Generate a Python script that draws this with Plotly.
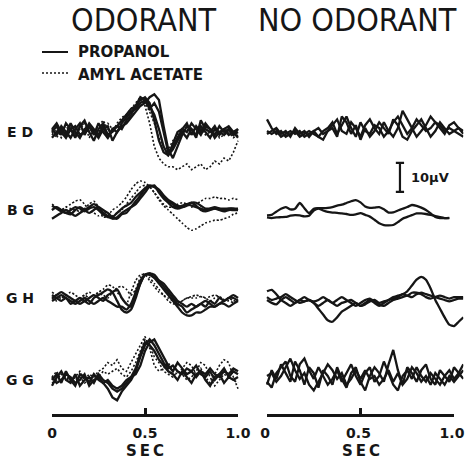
import plotly.graph_objects as go

# ---------------- data (microvolts vs seconds) ----------------
T_LEFT = [0.0, 0.025, 0.05, 0.075, 0.1, 0.125, 0.15, 0.175, 0.2, 0.225,
          0.25, 0.275, 0.3, 0.325, 0.35, 0.375, 0.4, 0.425, 0.45, 0.475,
          0.5, 0.525, 0.55, 0.575, 0.6, 0.625, 0.65, 0.675, 0.7, 0.725,
          0.75, 0.775, 0.8, 0.825, 0.85, 0.875, 0.9, 0.925, 0.95, 0.975, 1.0]
T_RIGHT = T_LEFT + [1.025, 1.05]

ROW_LABELS = ["E D", "B G", "G H", "G G"]
X_TICKS = [0, 0.5, 1.0]
X_TICK_TEXT = ["0", "0.5", "1.0"]
SCALE_UV = 10
SCALE_LABEL = "10\u03bcV"
LEGEND_LABELS = ["PROPANOL", "AMYL ACETATE"]
PANEL_TITLES = ["ODORANT", "NO ODORANT"]

# ---- ODORANT: ED ----
ED_PROP_1 = [0, 2, -1, 3, 1, -2, 2, 4, 0, -3, 1, 3, -1, 0, 2, 4, 6, 8, 9, 11, 12, 10, 4, -3, -7, -8, -4, 0, 1, 3, -1, 2, 0, 3, 1, -1, 2, 0, 1, -1, 1]
ED_PROP_2 = [1, -1, 2, 0, -2, 1, 3, -1, 2, 0, -2, 1, 2, -3, 0, 2, 3, 5, 7, 9, 10, 12, 13, 11, 2, -6, -9, -5, -1, 2, 1, -2, 4, 1, 0, 2, -1, 1, 2, 0, 1]
ED_PROP_3 = [-2, 0, 1, -1, 3, 0, -2, 1, 2, -1, 3, 0, -2, 1, 0, 3, 5, 7, 8, 10, 11, 9, 6, 1, -5, -8, -6, -3, 0, -2, 1, -1, 2, 0, -2, 1, 0, -1, 1, -1, 0]
ED_PROP_4 = [1, 3, 0, -2, 1, 2, -1, 0, 3, 1, -1, 2, -2, 1, 2, 1, 4, 6, 9, 12, 11, 8, 10, 7, 0, -7, -5, -2, 1, 0, 3, 1, -1, 2, 1, -2, 0, 1, -1, 0, -2]
ED_AMYL_1 = [0, -2, 1, 2, 0, -1, 2, 3, 1, 0, 2, 4, 1, 0, 3, 5, 6, 8, 10, 12, 9, 3, -5, -9, -11, -12, -12, -13, -12, -11, -13, -12, -11, -13, -12, -10, -11, -9, -10, -7, -3]
ED_AMYL_2 = [-1, 1, -2, 0, 2, -1, 1, 3, -2, 1, 0, 2, 3, 1, 2, 4, 6, 7, 9, 11, 10, 7, 3, -2, -5, -6, -3, -1, 0, 1, -1, 0, 1, -1, 0, 1, -2, -1, 0, -2, -1]

# ---- ODORANT: BG ----
BG_PROP_1 = [0, 1, 0, -1, 0, 1, 0.5, -0.5, 0.5, 1, 0, -1.5, -2.5, -2.5, -1, 0.5, 1.5, 2.5, 4.5, 6, 7.5, 8.5, 8, 6.5, 5, 3.5, 2.5, 1.5, 1, 1.5, 2.5, 2.5, 1.5, 0.5, 0.5, 0.5, 0.5, 0.5, 0.5, 0.5, 0.5]
BG_PROP_2 = [1.5, 0.5, -0.5, -1, -1.5, 0, 1, 0, -1, 0, 1, 0, -1, -2.5, -3, -1.5, -1, 1, 3, 5, 7, 8, 8.5, 6, 4, 2.5, 1, 0.5, 1, 2, 2.5, 1.5, 0, -0.5, 0, 0.5, 0, -0.5, 0, 0, 0]
BG_PROP_3 = [-3, -2, -1, 0, -1, -2, -1, 0, 1, 2, 1, -1, -2, -3, -2.5, -1, 0, 1, 2, 4, 6, 8, 8, 7, 5, 3, 2, 1, 1.5, 2, 1.5, 1, 0.5, 0, 0.5, 1, 0.5, 0, 0.5, 0.5, 0]
BG_AMYL_1 = [0, 1, 0, 1, 0.5, 0, -0.5, 0.5, 2, 3, 1, -2.5, -2, 0, 1, 2.5, 4.5, 7, 9, 10, 9.5, 8, 6, 3.5, 1.5, 0, -1.5, -3, -4.5, -6, -7, -6.5, -5.5, -4.5, -4, -3.5, -3.5, -3, -2.5, -1.5, -1]
BG_AMYL_2 = [2, 1, 0, 1, 2, 3, 3.5, 2, 0, -1, -2, -1, -1, -2, -1, 0, 2, 4, 6, 8, 8.5, 8, 6, 4, 2, 1, 1, 2, 2.5, 2, 1, 2, 3, 4, 4, 4.5, 4, 4, 3.5, 4, 3.5]

# ---- ODORANT: GH ----
GH_PROP_1 = [1, 0, -1, 0, -2, -1, 0, -1, -2, 0, 1, 2, 3, 2, -1, -4, -5, -4, 0, 5, 8, 8.5, 7, 5, 3, 1, -1, -3, -5, -6, -6, -5, -5, -4, -3, -3, -2, -2, -3, -2, -1]
GH_PROP_2 = [-1, 0, 1, 0, -1, -2, -1, 0, -1, -2, -1, 0, -1, -2, -3, -3, -4, -2, 2, 6, 8, 8.5, 8, 6, 4, 2, 0, -2, -3, -5, -4, -3, -2, -1, -2, -3, -2, -1, 0, 0, -1]
GH_PROP_3 = [0, 1, 2, 1, 0, -1, -2, -1, 0, 1, 0, -1, 1, 2, 3, 0, -2, -3, 1, 5, 8, 8, 7, 6, 5, 3, 1, -1, -2, -3, -2, -3, -2, -3, -1, -2, 0, -1, 0, 1, 0]
GH_AMYL_1 = [2, 1, 0, 1, 2, 1, 0, 1, 2, 1, 2, 3, 4.5, 4, 2, 0, -2, 2, 6, 8, 8, 6, 4, 2, 1, -1, -2, -2, -1, 0, 0, 0, 0.5, 0, -1, 0, 0.5, -1, -1, -1.5, -1]
GH_AMYL_2 = [0, -1, 0, 1, 0, -1, 0, 1, 0, 1, 1.5, 1, 0, 2, 3.5, 4, 3, 1, 3, 7, 8.5, 7, 5, 3, 1, 0, -1, -1.5, -1, 0, 0.5, 1, 0.5, 0, 0.5, 1, 0.5, -0.5, 0, -1, -0.5]

# ---- ODORANT: GG ----
GG_PROP_1 = [0, 2, -1, 3, 0, -2, 2, 1, -1, 2, 0, -1, -3, -6, -7, -4, -2, 0, 3, 8, 12, 14, 12, 9, 6, 4, 5, 3, 2, 4, 3, 1, 3, 2, 4, 2, 1, 3, 2, 4, 3]
GG_PROP_2 = [-2, 1, 3, 0, -1, 2, -2, 0, 1, -1, 2, 0, -1, -3, -4, -3, -1, 1, 2, 5, 10, 13, 14, 11, 8, 5, 3, 6, 4, 2, 3, 5, 2, 1, 3, 0, 2, 4, 1, 3, 2]
GG_PROP_3 = [1, -1, 0, 2, 1, -1, 0, 2, -2, 0, 1, -1, 0, -2, -3, -2, 0, 1, 4, 9, 13, 12, 10, 7, 5, 3, 2, 0, 3, 1, -1, 2, 3, 0, -2, 1, 2, -1, 1, 0, 1]
GG_AMYL_1 = [1, 3, 0, 2, -1, 1, 3, 0, 2, 1, 3, 4, 6, 5, 7, 4, 3, 6, 9, 12, 15, 11, 5, 3, 4, 6, 3, 2, 4, 6, 5, 2, 4, 1, -1, 2, 5, 7, 6, 1, -3]
GG_AMYL_2 = [-1, 0, 2, 1, -1, 0, 1, -1, 0, 2, 1, 3, 2, 3, 4, 2, 1, 3, 6, 10, 14, 12, 8, 6, 3, 2, 1, 3, 2, 0, 1, 3, 6, 5, 1, -2, 0, 2, 1, 0, -1]

# ---- NO ODORANT ----
ED_NONE_1 = [4, 1, -1, 0, -2, -1, 0, -2, -1, 0, -1, -2, 0, 1, 3, -1, 2, 5, 1, -2, 3, 0, -1, 2, 1, -2, 0, 3, 5, 2, -1, 1, 4, 2, 0, 1, 3, 2, 0, 1, 0, -1, -2]
ED_NONE_2 = [-1, 0, 1, -1, 0, -2, 1, -1, 0, -2, 0, 1, -1, 0, 2, 4, 0, -1, 3, 1, -2, 2, 4, 1, -1, 3, 0, -2, 1, 7, 4, 1, -2, 0, 2, 5, 3, 1, -1, 2, 3, 1, 0]
ED_NONE_3 = [0, -1, 0, -2, -1, 0, -1, 0, -2, -1, 0, -2, -3, 0, 1, -2, 5, 3, -1, 2, -3, 1, -2, 0, 3, 1, -1, 4, 2, -2, -3, 0, 2, 4, 1, -2, 0, 3, 1, -1, 0, 1, -1]
BG_NONE_1 = [-0.5, -0.3, 0.8, 1.8, 2.4, 1.6, 1.8, 3.8, 2.0, 0.3, 1.8, 2.0, 2.0, 2.1, 2.4, 2.9, 3.2, 3.8, 4.4, 4.8, 4.0, 2.6, 2.1, 2.2, 2.4, 1.6, 0.5, 0.6, 1.2, 1.8, 2.4, 3.1, 2.8, 2.2, 1.4, 0.2, -1.0, -1.4, -1.4, -1.4]
BG_NONE_2 = [-1.2, -1.4, -1.2, -1.1, -1.0, -0.6, -0.4, -0.5, -0.8, -0.6, 1.2, 1.9, 1.2, 0.7, 0.5, 0.4, 0.2, 0, -0.3, -0.1, 0.3, -0.3, -0.9, -2.0, -3.2, -3.8, -3.9, -3.8, -2.8, -1.6, -1.0, -0.4, 0.2, 0.2, 0, -0.3, -0.7, -1.1, -1.4, -1.3]
GH_NONE_1 = [3, 3.5, 2, 0, -1, -2, -1, 0, -0.5, 0, -1, -2, -1, 0, -1, -2, -1, -0.5, 0, -1, -2, -1, 0, -1, -2, -1, 0, 1, 1.5, 2, 3, 5, 7, 8, 7, 4, 0, -3, -6, -8.5, -9, -7.5, -6]
GH_NONE_2 = [1, 0, 0.5, 1, 2, 1, 0, -1, -0.5, 0, -1, -3, -5, -7, -7.5, -6, -4, -3, -2, -1, -2, -1.5, -0.5, 0, -1, -0.5, 0, 0.5, 1, 2, 1.5, 2.5, 2.5, 2, 1, 0.5, 1, 1.5, 1, 0.5, 1, 1, 1]
GH_NONE_3 = [0, -1, -1.5, 0, 1, 0, -1, 0, 1, 0, -0.5, 0, 1, 0, -1, 0, 1, 0, -1, -2, -1, 0, 0.5, -0.5, -1.5, -2, -1, 0, 0.5, 1, 1.5, 1, 2, 2.5, 2, 1.5, 1, 0.5, 0, -0.5, 0, 0.5, 0.5]
GG_NONE_1 = [-3, 2, -1, 4, 1, -2, 5, 2, -3, 3, 1, -4, 2, 0, -3, 3, -1, -4, 1, 3, -2, -5, 0, 3, 1, -2, 4, 9, 2, -3, 3, 1, -2, 2, 4, -1, -3, 2, 0, -2, 3, 1, -1]
GG_NONE_2 = [-2, -4, 1, 3, 5, 0, -2, 4, 6, 2, -1, 3, 0, -3, -1, 2, -2, 1, 4, 0, -3, 1, 3, -2, 0, 5, 1, -3, -5, 0, 2, -1, 3, 0, -2, 1, -1, -3, 0, 2, -1, 1, 4]
GG_NONE_3 = [0, 1, -2, 0, 3, 6, 2, -1, 1, -3, -5, -2, 1, 4, 2, -1, 1, -3, -1, 2, -1, 2, -1, 0, -3, -1, 2, -2, 1, -3, -1, 3, 1, -2, 0, -3, 1, -1, -3, 0, -2, 0, 2]

ODORANT_ROWS = [
    [(ED_PROP_1, "solid"), (ED_PROP_2, "solid"), (ED_PROP_3, "solid"), (ED_PROP_4, "solid"),
     (ED_AMYL_1, "dot"), (ED_AMYL_2, "dot")],
    [(BG_PROP_1, "solid"), (BG_PROP_2, "solid"), (BG_PROP_3, "solid"),
     (BG_AMYL_1, "dot"), (BG_AMYL_2, "dot")],
    [(GH_PROP_1, "solid"), (GH_PROP_2, "solid"), (GH_PROP_3, "solid"),
     (GH_AMYL_1, "dot"), (GH_AMYL_2, "dot")],
    [(GG_PROP_1, "solid"), (GG_PROP_2, "solid"), (GG_PROP_3, "solid"),
     (GG_AMYL_1, "dot"), (GG_AMYL_2, "dot")],
]
NO_ODORANT_ROWS = [
    [(ED_NONE_1, "solid"), (ED_NONE_2, "solid"), (ED_NONE_3, "solid")],
    [(BG_NONE_1, "solid"), (BG_NONE_2, "solid")],
    [(GH_NONE_1, "solid"), (GH_NONE_2, "solid"), (GH_NONE_3, "solid")],
    [(GG_NONE_1, "solid"), (GG_NONE_2, "solid"), (GG_NONE_3, "solid")],
]

# ---------------- layout geometry (pixels) ----------------
W = H = 465
INK = "#161616"
PX_PER_UV = 2.9
HALF_UV = 25
ROW_BASE_LEFT = [132, 210, 298, 380]
ROW_BASE_RIGHT = [131, 214, 300, 376]
COL_PX = [(52, 238), (267, 454)]          # pixel of t=0 and t=1.0
COL_RANGE = [(-0.06, 1.06), (-0.06, 1.05)]
AXIS_Y_PX = 415
BOLD = "DejaVu Sans"
TITLE_FONT = "'DejaVu Sans Condensed', 'Liberation Sans Narrow', 'DejaVu Sans', sans-serif"


def xdom(col):
    p0, p1 = COL_PX[col]
    r0, r1 = COL_RANGE[col]
    return [(p0 + (p1 - p0) * r0) / W, (p0 + (p1 - p0) * r1) / W]


def ydom(base):
    half = HALF_UV * PX_PER_UV
    return [1 - (base + half) / H, 1 - (base - half) / H]


fig = go.Figure()
layout = {}
for r in range(4):
    for c, rows, bases, tgrid in ((0, ODORANT_ROWS, ROW_BASE_LEFT, T_LEFT),
                                  (1, NO_ODORANT_ROWS, ROW_BASE_RIGHT, T_RIGHT)):
        k = r * 2 + c + 1
        smooth = r in (1, 2)
        for vals, dash in rows[r]:
            fig.add_trace(go.Scatter(
                x=tgrid[:len(vals)], y=vals, mode="lines",
                xaxis=f"x{k}", yaxis=f"y{k}",
                line=dict(color=INK,
                          width=2.3 if dash == "solid" else 1.6,
                          dash="solid" if dash == "solid" else "2px,2px",
                          shape="spline" if smooth else "linear",
                          smoothing=0.6),
                hoverinfo="skip", showlegend=False))
        layout[f"xaxis{k}"] = dict(domain=xdom(c), range=list(COL_RANGE[c]),
                                   anchor=f"y{k}", visible=False, automargin=False)
        layout[f"yaxis{k}"] = dict(domain=ydom(bases[r]), range=[-HALF_UV, HALF_UV],
                                   anchor=f"x{k}", visible=False, automargin=False)

# time axes (free-positioned, 0 .. 1.0 s)
for c, k, yk, shift in ((0, 9, 7, 0), (1, 10, 8, -2)):
    p0, p1 = COL_PX[c]
    fig.add_trace(go.Scatter(x=[], y=[], xaxis=f"x{k}", yaxis=f"y{yk}",
                             showlegend=False, hoverinfo="skip"))
    layout[f"xaxis{k}"] = dict(
        domain=[p0 / W, p1 / W], range=[0, 1.0], anchor="free", automargin=False,
        position=1 - AXIS_Y_PX / H, showline=True, linewidth=2.5, linecolor=INK,
        ticks="inside", ticklen=6, tickwidth=2.5, tickcolor=INK,
        tickvals=X_TICKS, ticktext=X_TICK_TEXT, ticklabelstandoff=4,
        ticklabeloverflow="allow", ticklabelshift=shift,
        tickfont=dict(family=BOLD, size=14, color=INK, weight="bold"),
        showgrid=False, zeroline=False)

annotations = []
# panel titles
for txt, cx in zip(PANEL_TITLES, (143, 357)):
    annotations.append(dict(text=txt, x=cx / W, y=1 - 20 / H, xref="paper", yref="paper",
                            xanchor="center", yanchor="middle", showarrow=False,
                            font=dict(family=TITLE_FONT, size=32, color=INK)))
# row labels
for lab, b in zip(ROW_LABELS, ROW_BASE_LEFT):
    annotations.append(dict(text=f"<b>{lab}</b>", x=20 / W, y=1 - b / H, xref="paper",
                            yref="paper", xanchor="center", yanchor="middle",
                            showarrow=False, font=dict(family=BOLD, size=14, color=INK)))
# SEC labels
for c in (0, 1):
    p0, p1 = COL_PX[c]
    annotations.append(dict(text="<b>S\u2009E\u2009C</b>", x=(p0 + p1) / 2 / W, y=1 - 451 / H,
                            xref="paper", yref="paper", xanchor="center", yanchor="middle",
                            showarrow=False, font=dict(family=BOLD, size=15, color=INK)))
# legend text
for txt, yy in zip(LEGEND_LABELS, (52, 75)):
    annotations.append(dict(text=f"<b>{txt}</b>", x=76 / W, y=1 - yy / H, xref="paper",
                            yref="paper", xanchor="left", yanchor="middle", showarrow=False,
                            font=dict(family=BOLD, size=15, color=INK)))
# scale bar label
annotations.append(dict(text=f"<b>{SCALE_LABEL}</b>", x=0.76, y=12.5, xref="x4", yref="y4",
                        xanchor="left", yanchor="middle", showarrow=False,
                        font=dict(family=BOLD, size=13, color=INK)))

shapes = [
    dict(type="line", xref="paper", yref="paper", x0=42 / W, x1=68 / W,
         y0=1 - 52 / H, y1=1 - 52 / H, line=dict(color=INK, width=2)),
    dict(type="line", xref="paper", yref="paper", x0=42 / W, x1=68 / W,
         y0=1 - 73 / H, y1=1 - 73 / H, line=dict(color=INK, width=1.6, dash="2px,2px")),
]
# 10 uV calibration bar (drawn in the right BG panel's units)
bar_x, bar_y0, cap = 0.711, 7.6, 0.022
shapes += [
    dict(type="line", xref="x4", yref="y4", x0=bar_x, x1=bar_x, y0=bar_y0,
         y1=bar_y0 + SCALE_UV, line=dict(color=INK, width=2.2)),
    dict(type="line", xref="x4", yref="y4", x0=bar_x - cap, x1=bar_x + cap, y0=bar_y0,
         y1=bar_y0, line=dict(color=INK, width=2.2)),
    dict(type="line", xref="x4", yref="y4", x0=bar_x - cap, x1=bar_x + cap,
         y0=bar_y0 + SCALE_UV, y1=bar_y0 + SCALE_UV, line=dict(color=INK, width=2.2)),
]

fig.update_layout(width=W, height=H, margin=dict(l=0, r=0, t=0, b=0, autoexpand=False),
                  paper_bgcolor="white", plot_bgcolor="rgba(0,0,0,0)", autosize=False,
                  showlegend=False, annotations=annotations, shapes=shapes, **layout)
fig.write_html("out.html", config={"responsive": False, "displayModeBar": False},
               post_script="document.body.style.margin='0';"
                           "document.body.style.overflow='hidden';")
